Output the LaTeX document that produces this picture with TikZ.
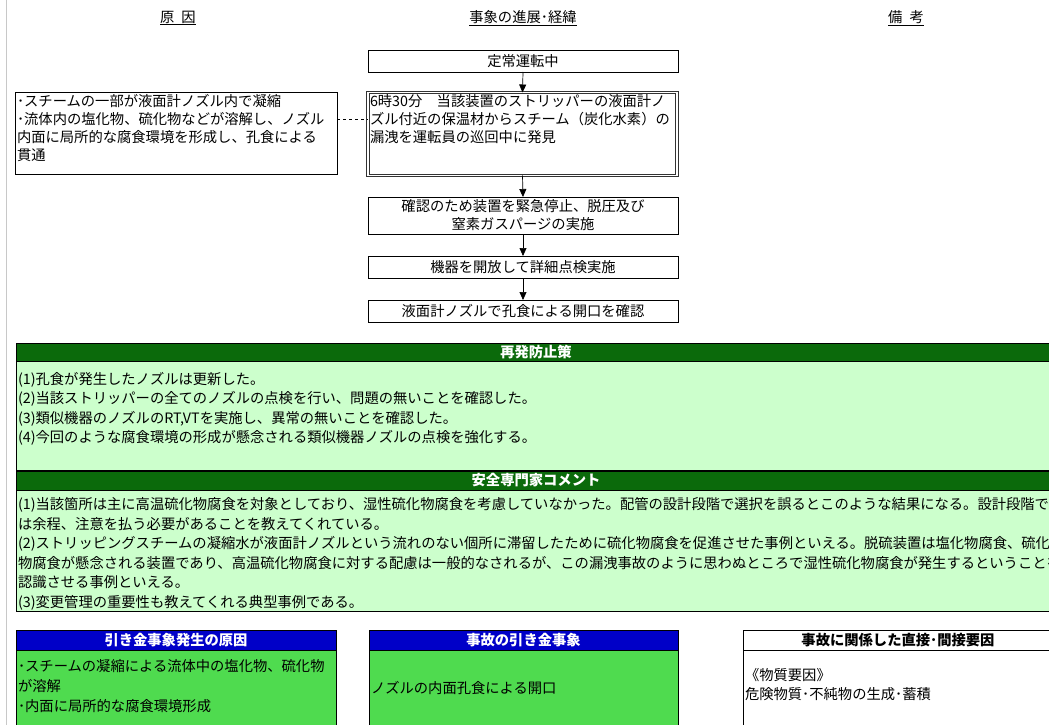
\documentclass[tikz,border=0pt]{standalone}
\usepackage{fontspec}
\setmainfont{Noto Sans CJK JP}
\usetikzlibrary{arrows.meta}
\definecolor{dkgreen}{HTML}{0B6A0B}
\definecolor{ltgreen}{HTML}{CCFFCC}
\definecolor{hdblue}{HTML}{0000C8}
\definecolor{midgreen}{HTML}{4FDB4F}
\definecolor{edgegray}{HTML}{C8C8C8}
\begin{document}
\begin{tikzpicture}[x=1pt,y=-1pt,
  every node/.style={font=\fontsize{14.3}{18}\selectfont, inner sep=0pt, outer sep=0pt},
  colhead/.style={font=\fontsize{14.3}{18}\selectfont},
  flowbox/.style={draw=black, line width=0.8pt, fill=white, minimum width=310pt, minimum height=22pt, align=center},
  dblbox/.style={draw=black!80, double=white, double distance=1.3pt, line width=0.9pt, fill=white, minimum width=309pt, minimum height=83pt},
  causebox/.style={draw=black, line width=0.8pt, fill=white, minimum width=322pt, minimum height=82pt},
  bodytext/.style={align=left, anchor=north west},
  flowarrow/.style={-{Triangle[length=8pt,width=7pt]}, line width=0.7pt},
  greenhead/.style={draw=black, line width=0.6pt, fill=dkgreen, text=white, font=\fontsize{14.3}{18}\selectfont\bfseries, minimum height=18pt},
  greenbody/.style={draw=black, line width=0.8pt, fill=ltgreen, anchor=north west},
  bluehead/.style={draw=black, line width=0.6pt, fill=hdblue, text=white, font=\fontsize{14.3}{18}\selectfont\bfseries, minimum height=20pt, anchor=north west},
  midbody/.style={draw=black, line width=0.6pt, fill=midgreen, anchor=north west},
  whitehead/.style={draw=black, line width=0.6pt, fill=white, font=\fontsize{14.3}{18}\selectfont\bfseries, minimum height=20pt, anchor=north west},
  whitebody/.style={draw=black, line width=0.6pt, fill=white, anchor=north west}
]
\useasboundingbox (0,0) rectangle (1049,725);
\clip (0,0) rectangle (1049,725);
\fill[white] (0,0) rectangle (1049,725);
\draw[edgegray, line width=0.8pt] (6,0) -- (6,725);

% column headings
\node[colhead] (hcause) at (178,18) {\underline{原\hspace{7pt}因}};
\node[colhead] (hflow) at (523,18) {\underline{事象の進展･経緯}};
\node[colhead] (hnote) at (906,18) {\underline{備\hspace{7pt}考}};

% flow
\node[flowbox] (s1) at (523,61) {定常運転中};
\node[dblbox, anchor=north west] (s2) at (368,92.5) {};
\node[bodytext, text width=306pt] (s2t) at (370,94) {6時30分　当該装置のストリッパーの液面計ノ\\ズル付近の保温材からスチーム（炭化水素）の\\漏洩を運転員の巡回中に発見};
\node[flowbox, minimum height=37pt] (s3) at (523,215.5) {確認のため装置を緊急停止、脱圧及び\\窒素ガスパージの実施};
\node[flowbox] (s4) at (523,267) {機器を開放して詳細点検実施};
\node[flowbox] (s5) at (523,311) {液面計ノズルで孔食による開口を確認};

\draw[flowarrow] (s1.south) -- (s2.north);
\draw[flowarrow] (s2.south) -- (s3.north);
\draw[flowarrow] (s3.south) -- (s4.north);
\draw[flowarrow] (s4.south) -- (s5.north);

% cause
\node[causebox, anchor=north west] (c1) at (15,92) {};
\node[bodytext, text width=318pt] (c1t) at (17,94) {･スチームの一部が液面計ノズル内で凝縮\\･流体内の塩化物、硫化物などが溶解し、ノズル\\内面に局所的な腐食環境を形成し、孔食による\\貫通};
\coordinate (dashstart) at ([yshift=-27pt]c1.north east);
\coordinate (dashend) at (dashstart -| s2.west);
\draw[dashed, line width=0.7pt] (dashstart) -- (dashend);

% recurrence prevention
\node[greenhead, anchor=north west, minimum width=1040pt] (p1h) at (16,343) {再発防止策};
\node[greenbody, minimum width=1040pt, minimum height=109pt] (p1b) at (16,361) {};
\node[bodytext, font=\fontsize{14.3}{19.3}\selectfont] (p1t) at (18,372.5) {(1)孔食が発生したノズルは更新した。\\(2)当該ストリッパーの全てのノズルの点検を行い、問題の無いことを確認した。\\(3)類似機器のノズルのRT,VTを実施し、異常の無いことを確認した。\\(4)今回のような腐食環境の形成が懸念される類似機器ノズルの点検を強化する。};

% expert comment
\node[greenhead, anchor=north west, minimum width=1040pt, minimum height=19pt] (p2h) at (16,471) {安全専門家コメント};
\node[greenbody, minimum width=1040pt, minimum height=121pt] (p2b) at (16,490) {};
\node[bodytext, font=\fontsize{14.3}{19.6}\selectfont] (p2t) at (18,497.5) {(1)当該箇所は主に高温硫化物腐食を対象としており、湿性硫化物腐食を考慮していなかった。配管の設計段階で選択を誤るとこのような結果になる。設計段階で\\は余程、注意を払う必要があることを教えてくれている。\\(2)ストリッピングスチームの凝縮水が液面計ノズルという流れのない個所に滞留したために硫化物腐食を促進させた事例といえる。脱硫装置は塩化物腐食、硫化\\物腐食が懸念される装置であり、高温硫化物腐食に対する配慮は一般的なされるが、この漏洩事故のように思わぬところで湿性硫化物腐食が発生するということを\\認識させる事例といえる。\\(3)変更管理の重要性も教えてくれる典型事例である。};

% bottom panels
\node[bluehead, minimum width=320pt] (bah) at (16,630) {引き金事象発生の原因};
\node[midbody, minimum width=320pt, minimum height=90pt] (bab) at (16,650) {};
\node[bodytext, font=\fontsize{14.3}{20}\selectfont] (bat) at (18,659.5) {･スチームの凝縮による流体中の塩化物、硫化物\\が溶解\\･内面に局所的な腐食環境形成};

\node[bluehead, minimum width=309pt] (bbh) at (369,630) {事故の引き金事象};
\node[midbody, minimum width=309pt, minimum height=90pt] (bbb) at (369,650) {};
\node[anchor=west] (bbt) at (371,688) {ノズルの内面孔食による開口};

\node[whitehead, minimum width=310pt] (bch) at (743,630) {事故に関係した直接･間接要因};
\node[whitebody, minimum width=310pt, minimum height=90pt] (bcb) at (743,650) {};
\node[bodytext, font=\fontsize{14.3}{19}\selectfont] (bct) at (745,668.5) {《物質要因》\\危険物質･不純物の生成･蓄積};
\end{tikzpicture}
\end{document}
